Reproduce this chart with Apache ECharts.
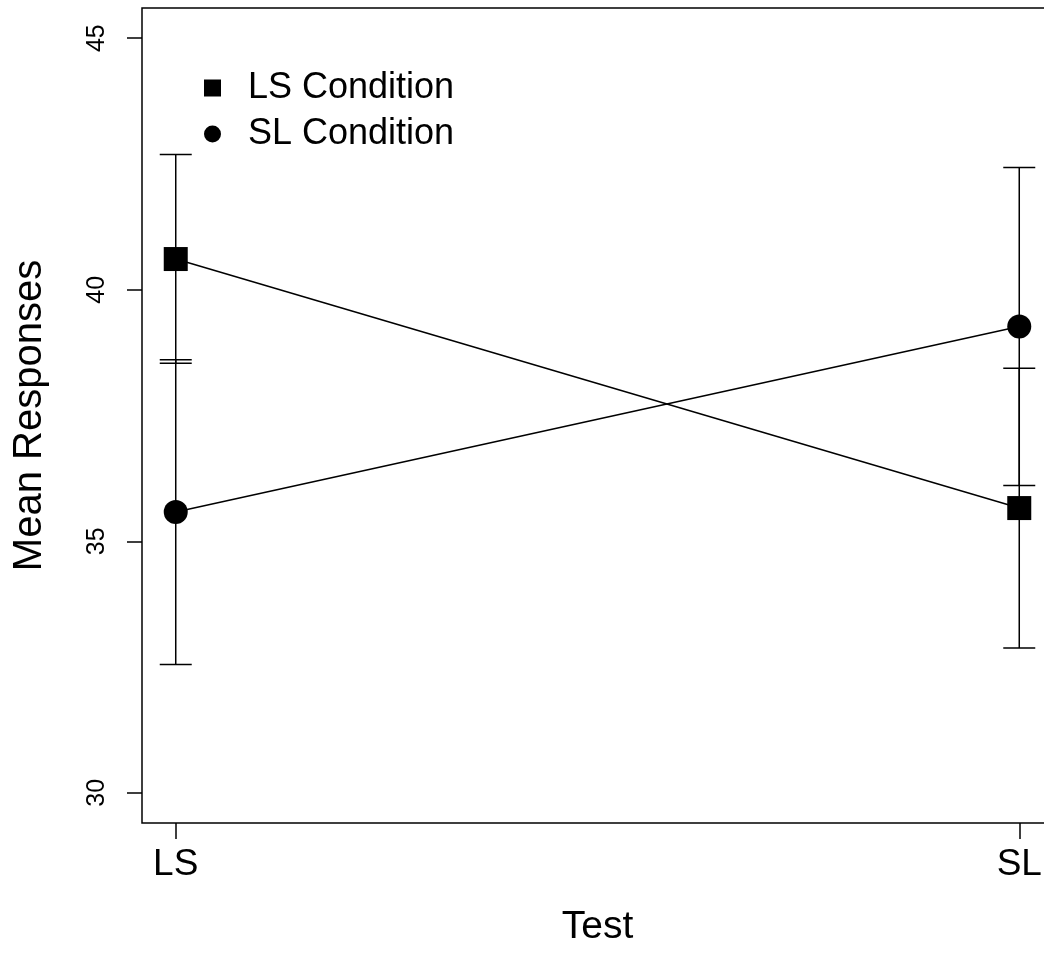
<!DOCTYPE html>
<html lang="en">
<head>
    <meta charset="UTF-8">
    <title>Mean Responses</title>
    <script src="https://cdn.jsdelivr.net/npm/echarts@6/dist/echarts.min.js"></script>
    <style>
        html, body { margin: 0; padding: 0; background: #fff; }
        #showDiv { width: 1044px; height: 954px; }
    </style>
</head>
<body>
<div id="showDiv"></div>
<script type="text/javascript">
    // test positions on the x axis
    var categories = ['LS', 'SL'];
    var xPos = [1, 2];
    var yTicks = [30, 35, 40, 45];

    // LS condition (squares)
    var lsMean = [40.61, 35.66];
    var lsLow = [38.54, 32.88];
    var lsHigh = [42.69, 38.44];

    // SL condition (circles)
    var slMean = [35.58, 39.27];
    var slLow = [32.55, 36.11];
    var slHigh = [38.61, 42.43];

    var font = 'Liberation Sans, Arial, Helvetica, sans-serif';

    function pairs(vals) {
        var out = [];
        for (var i = 0; i < vals.length; i++) out.push([xPos[i], vals[i]]);
        return out;
    }
    function bars(lo, hi) {
        var out = [];
        for (var i = 0; i < lo.length; i++) out.push([xPos[i], lo[i], hi[i]]);
        return out;
    }

    function errorBar(params, api) {
        var x = api.value(0);
        var top = api.coord([x, api.value(2)]);
        var bot = api.coord([x, api.value(1)]);
        var w = 16;
        var st = { stroke: '#000', lineWidth: 1.5 };
        return {
            type: 'group',
            children: [
                { type: 'line', shape: { x1: top[0], y1: top[1], x2: bot[0], y2: bot[1] }, style: st },
                { type: 'line', shape: { x1: top[0] - w, y1: top[1], x2: top[0] + w, y2: top[1] }, style: st },
                { type: 'line', shape: { x1: bot[0] - w, y1: bot[1], x2: bot[0] + w, y2: bot[1] }, style: st }
            ]
        };
    }

    var myChart = echarts.init(document.getElementById('showDiv'));

    var option = {
        backgroundColor: '#fff',
        animation: false,
        textStyle: { fontFamily: font, color: '#000' },
        grid: {
            // the plot box runs past the right edge of the picture
            left: 142, width: 911, top: 8, bottom: 131,
            outerBoundsMode: 'none',
            containLabel: false,
            show: true, borderColor: '#000', borderWidth: 1.5, backgroundColor: 'transparent'
        },
        legend: {
            orient: 'vertical',
            left: 199,
            top: 65,
            itemWidth: 17,
            itemHeight: 17,
            itemGap: 10,
            textStyle: { fontSize: 36, color: '#000', fontFamily: font, padding: [0, 0, 0, 22] },
            data: [
                { name: 'LS Condition', icon: 'rect' },
                { name: 'SL Condition', icon: 'circle' }
            ]
        },
        xAxis: {
            type: 'value',
            min: 0.96,
            max: 2.04,
            name: 'Test',
            nameLocation: 'middle',
            nameGap: 85,
            nameTextStyle: { fontSize: 39, color: '#000', fontFamily: font },
            axisLine: { show: false },
            splitLine: { show: false },
            axisTick: { show: true, inside: false, length: 16, customValues: xPos, lineStyle: { color: '#000', width: 1.5 } },
            axisLabel: {
                customValues: xPos,
                fontSize: 37,
                color: '#000',
                margin: 23,
                formatter: function (v) { return categories[Math.round(v) - 1]; }
            }
        },
        yAxis: {
            type: 'value',
            min: 29.4,
            max: 45.6,
            name: 'Mean Responses',
            nameLocation: 'middle',
            nameGap: 92,
            nameTextStyle: { fontSize: 40, color: '#000', fontFamily: font },
            axisLine: { show: false },
            splitLine: { show: false },
            axisTick: { show: true, inside: false, length: 15, customValues: yTicks, lineStyle: { color: '#000', width: 1.5 } },
            axisLabel: {
                customValues: yTicks,
                fontSize: 25,
                color: '#000',
                rotate: 90,
                margin: 32
            }
        },
        series: [
            {
                name: 'LS Condition err',
                type: 'custom',
                renderItem: errorBar,
                data: bars(lsLow, lsHigh),
                z: 1
            },
            {
                name: 'SL Condition err',
                type: 'custom',
                renderItem: errorBar,
                data: bars(slLow, slHigh),
                z: 1
            },
            {
                name: 'LS Condition',
                type: 'line',
                data: pairs(lsMean),
                symbol: 'rect',
                symbolSize: 24,
                lineStyle: { color: '#000', width: 1.5 },
                itemStyle: { color: '#000' },
                z: 3
            },
            {
                name: 'SL Condition',
                type: 'line',
                data: pairs(slMean),
                symbol: 'circle',
                symbolSize: 24,
                lineStyle: { color: '#000', width: 1.5 },
                itemStyle: { color: '#000' },
                z: 3
            }
        ]
    };

    myChart.setOption(option, true);
</script>
</body>
</html>
